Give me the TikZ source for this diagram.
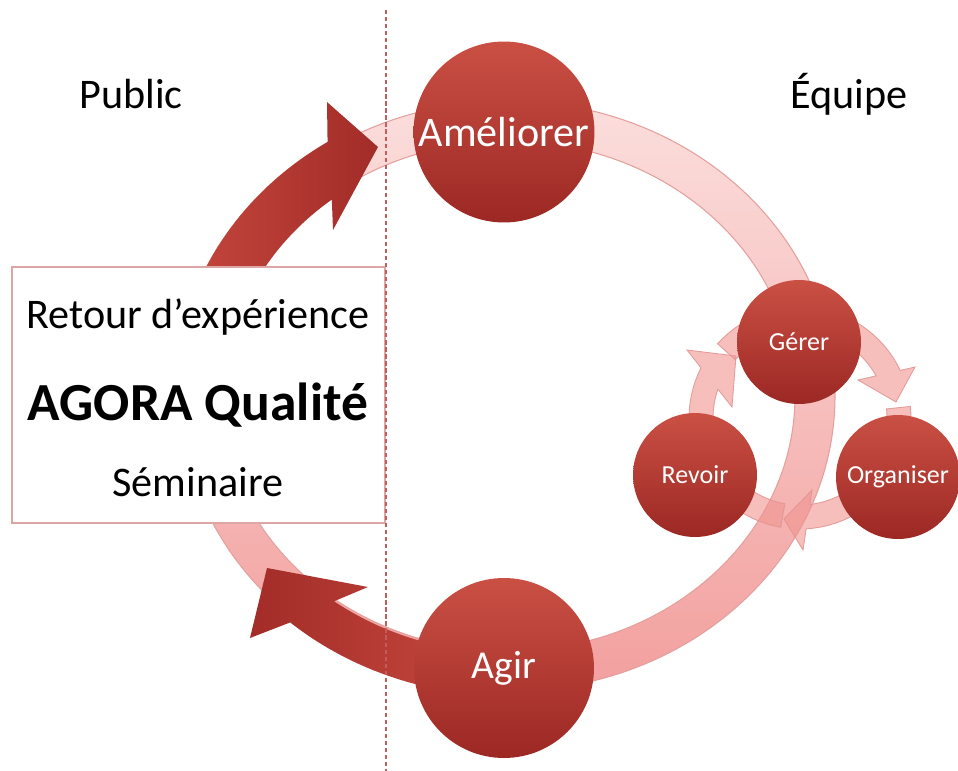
\documentclass[tikz,border=0pt]{standalone}
\usepackage{fontspec}
\setmainfont{Carlito}
\definecolor{ringtop}{RGB}{251,222,220}
\definecolor{ringbot}{RGB}{242,160,158}
\definecolor{ringedge}{RGB}{228,160,158}
\definecolor{circtop}{RGB}{202,80,68}
\definecolor{circbot}{RGB}{156,40,36}
\definecolor{arrL}{RGB}{198,72,62}
\definecolor{arrR}{RGB}{162,44,40}
\definecolor{boxedge}{RGB}{222,165,165}
\definecolor{dashc}{RGB}{196,92,92}
\definecolor{smallc}{RGB}{240,148,144}
\definecolor{smalledge}{RGB}{226,150,148}
\tikzset{
  bigcirc/.style={circle, inner sep=0pt, minimum size=3.62cm, top color=circtop, bottom color=circbot, text=white, font=\fontsize{24}{28}\selectfont},
  smallcirc/.style={circle, inner sep=0pt, minimum size=2.48cm, top color=circtop, bottom color=circbot, text=white, font=\fontsize{14.8}{17}\selectfont},
  lbl/.style={anchor=base, text=black, font=\fontsize{24}{28}\selectfont},
  smallarrow/.style={fill=smallc, fill opacity=0.6, draw=smalledge, draw opacity=0.9, line width=0.5pt},
  bigarrow/.style={left color=arrL, right color=arrR}
}
\begin{document}
\begin{tikzpicture}[x=0.02cm, y=-0.02cm]
\useasboundingbox (0,0) rectangle (958,771);
% big ring
\path[even odd rule, top color=ringtop, bottom color=ringbot]
  (508,396) ellipse [x radius=327, y radius=295]
  (508,396) ellipse [x radius=287, y radius=255];
\draw[ringedge, line width=0.6pt] (508,396) ellipse [x radius=327, y radius=295];
\draw[ringedge, line width=0.6pt] (508,396) ellipse [x radius=287, y radius=255];
% dark arrow upper-left
\path[bigarrow]
  plot[domain=180:237.3, samples=40] ({508+334*cos(\x)},{396+302*sin(\x)})
  -- (327,102) -- (378,147) -- (333,230)
  -- plot[domain=231.5:180, samples=40] ({508+283*cos(\x)},{396+251*sin(\x)})
  -- cycle;
% dark arrow lower-left
\path[left color=arrR, right color=arrL]
  plot[domain=95:127, samples=40] ({508+289*cos(\x)},{396+257*sin(\x)})
  -- (368,587) -- (267,568) -- (250,638)
  -- plot[domain=131:95, samples=40] ({508+332*cos(\x)},{396+300*sin(\x)})
  -- cycle;
% box
\node (box) [draw=boxedge, fill=white, line width=0.7pt, minimum width=7.46cm, minimum height=5.12cm, inner sep=0pt] at (198.5,395) {};
% dashed divider
\coordinate (dtop) at (386,10);
\coordinate (dbot) at (386,771);
\draw[dashc, line width=0.6pt, dash pattern=on 2.4pt off 1.6pt] (dtop) -- (dbot);
% small cycle arrows
\path[smallarrow]
  plot[domain=100:199.3, samples=30] ({800+87*cos(\x)},{418+87*sin(\x)})
  -- (732,407) -- (736,356) -- (687,350)
  -- plot[domain=206.9:100, samples=30] ({800+111*cos(\x)},{418+111*sin(\x)})
  -- cycle;
\path[smallarrow]
  plot[domain=222:331, samples=30] ({800+87*cos(\x)},{418+87*sin(\x)})
  -- (858,380) -- (896,402) -- (915,367)
  -- plot[domain=334.6:222, samples=30] ({800+111*cos(\x)},{418+111*sin(\x)})
  -- cycle;
\path[smallarrow]
  plot[domain=354:443.5, samples=30] ({800+87*cos(\x)},{418+87*sin(\x)})
  -- (812,490) -- (784,519) -- (803,550)
  -- plot[domain=446.8:354, samples=30] ({800+111*cos(\x)},{418+111*sin(\x)})
  -- cycle;
% circles
\node (ameliorer) [bigcirc] at (504,132) {Améliorer};
\node (agir) [bigcirc, minimum size=3.6cm, font=\fontsize{22.5}{27}\selectfont] at (504,668) {Agir};
\node (gerer) [smallcirc] at (799,342) {Gérer};
\node (revoir) [smallcirc] at (695,475) {Revoir};
\node (organiser) [smallcirc] at (898,477) {Organiser};
% labels
\node (public) [lbl] at (131,108) {Public};
\node (equipe) [lbl] at (849,108) {Équipe};
\node (retour) [lbl] at (198,328) {Retour d’expérience};
\node (agora) [lbl, font=\fontsize{30.5}{36}\selectfont\bfseries] at (198,420) {AGORA Qualité};
\node (seminaire) [lbl] at (198,496) {Séminaire};
\end{tikzpicture}
\end{document}
